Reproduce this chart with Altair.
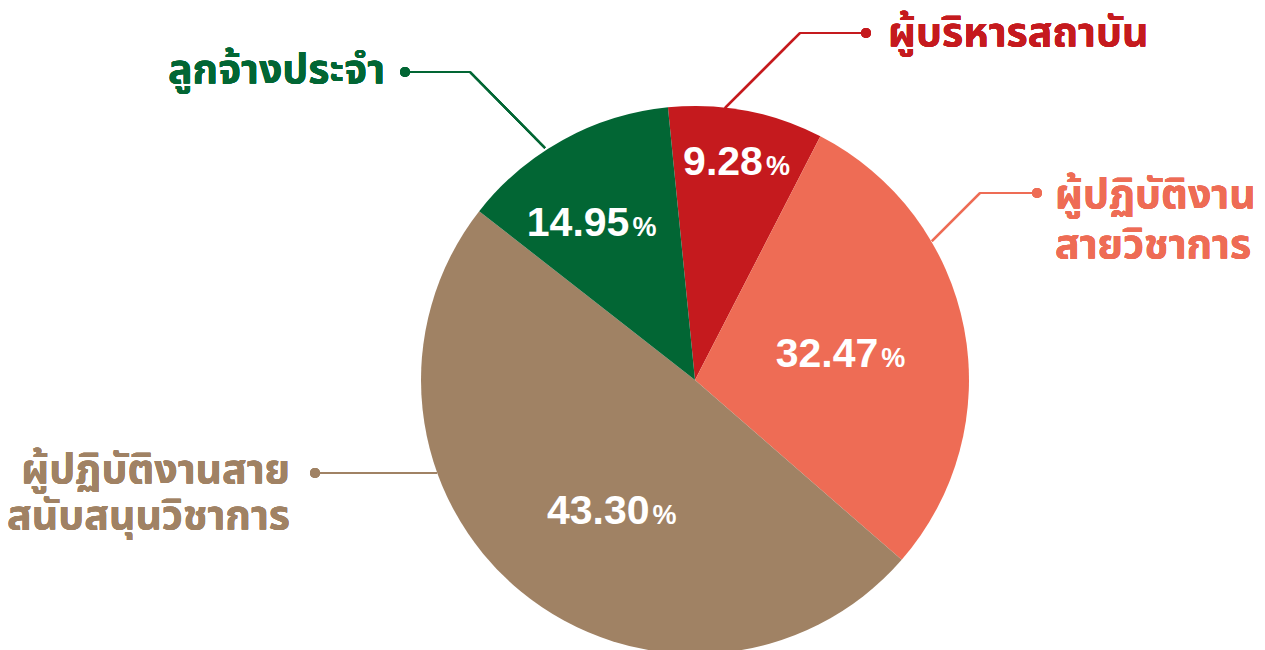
import math
import altair as alt
import pandas as pd

# ---- data ----
categories = ["ผู้บริหารสถาบัน", "ผู้ปฏิบัติงานสายวิชาการ", "ผู้ปฏิบัติงานสายสนับสนุนวิชาการ", "ลูกจ้างประจำ"]
label_lines = [["ผู้บริหารสถาบัน"], ["ผู้ปฏิบัติงาน", "สายวิชาการ"], ["ผู้ปฏิบัติงานสาย", "สนับสนุนวิชาการ"], ["ลูกจ้างประจำ"]]
percent_labels = ["9.28", "32.47", "43.30", "14.95"]
# slice sizes as drawn in the picture (degrees of arc)
slice_sizes = [32.9, 103.8, 177.0, 46.3]
colors = ["#C51A1E", "#EE6C55", "#A08264", "#026634"]

df = pd.DataFrame({
    "category": categories,
    "num": percent_labels,
    "size": slice_sizes,
    "order": list(range(len(categories))),
})

total = sum(slice_sizes)
a0 = math.radians(-5.67)
theta_scale = alt.Scale(domain=[0, total], range=[a0, a0 + 2 * math.pi])
color_scale = alt.Scale(domain=categories, range=colors)

CX, CY, R = 695, 380, 274
NUM_FONT = "Liberation Sans"
THAI_FONT = "Noto Sans Thai, Noto Sans Thai Looped, Loma, Garuda, Noto Sans, sans-serif"

base = alt.Chart(df).transform_window(
    end="sum(size)", sort=[alt.SortField("order")], frame=[None, 0]
).transform_calculate(
    start="datum.end - datum.size", mid="datum.end - datum.size / 2"
)

arcs = base.mark_arc(outerRadius=R).encode(
    theta=alt.Theta("start:Q", scale=theta_scale),
    theta2="end:Q",
    color=alt.Color("category:N", scale=color_scale, legend=None),
    x=alt.value(CX),
    y=alt.value(CY),
)

# label placement: (radius, dx, dy) relative to the slice's mid angle
label_place = [(224, 26, 15), (150, 36, 15), (150, 50, 28), (190, 26, 22)]

layers = [arcs]
for cat, (rad, dx, dy) in zip(categories, label_place):
    sub = base.transform_filter(alt.datum.category == cat)
    layers.append(sub.mark_text(
        radius=rad, dx=dx, dy=dy, align="right", baseline="alphabetic",
        font=NUM_FONT, fontSize=41, fontWeight="bold", color="white"
    ).encode(theta=alt.Theta("mid:Q", scale=theta_scale), text="num:N",
             x=alt.value(CX), y=alt.value(CY)))
    layers.append(sub.mark_text(
        radius=rad, dx=dx + 3, dy=dy, align="left", baseline="alphabetic",
        font=NUM_FONT, fontSize=27, fontWeight="bold", color="white", text="%"
    ).encode(theta=alt.Theta("mid:Q", scale=theta_scale),
             x=alt.value(CX), y=alt.value(CY)))


def seg(x1, y1, x2, y2, c):
    return alt.Chart(df).mark_rule(strokeWidth=2, color=c).encode(
        x=alt.value(x1), y=alt.value(y1), x2=alt.value(x2), y2=alt.value(y2))


def dot(x, y, c):
    return alt.Chart(df).mark_point(filled=True, size=100, opacity=1, color=c, shape="circle").encode(
        x=alt.value(x), y=alt.value(y))


def label(lines, x, y, c, align, lh):
    return alt.Chart(df).mark_text(
        text=lines if len(lines) > 1 else lines[0], align=align, baseline="alphabetic",
        font=THAI_FONT, fontSize=41, fontWeight="bold", color=c, lineHeight=lh
    ).encode(x=alt.value(x), y=alt.value(y))


# red callout
layers += [seg(725, 108, 800, 33, colors[0]), seg(800, 33, 866, 33, colors[0]), dot(866, 33, colors[0]),
           label(label_lines[0], 888, 46, colors[0], "left", 50)]
# orange callout
layers += [seg(932, 241, 980, 193, colors[1]), seg(980, 193, 1037, 193, colors[1]), dot(1037, 193, colors[1]),
           label(label_lines[1], 1055, 208, colors[1], "left", 50)]
# brown callout
layers += [seg(437, 473, 315, 473, colors[2]), dot(315, 473, colors[2]),
           label(label_lines[2], 290, 483, colors[2], "right", 46)]
# green callout
layers += [seg(545, 148, 470, 72, colors[3]), seg(470, 72, 405, 72, colors[3]), dot(405, 72, colors[3]),
           label(label_lines[3], 385, 83, colors[3], "right", 50)]

chart = alt.layer(*layers).properties(
    width=1265, height=650, autosize=alt.AutoSizeParams(type="none"), padding=0
).configure(background="white", view=alt.ViewConfig(stroke=None))

chart.save("out.html", embed_options={"renderer": "svg", "actions": False})
